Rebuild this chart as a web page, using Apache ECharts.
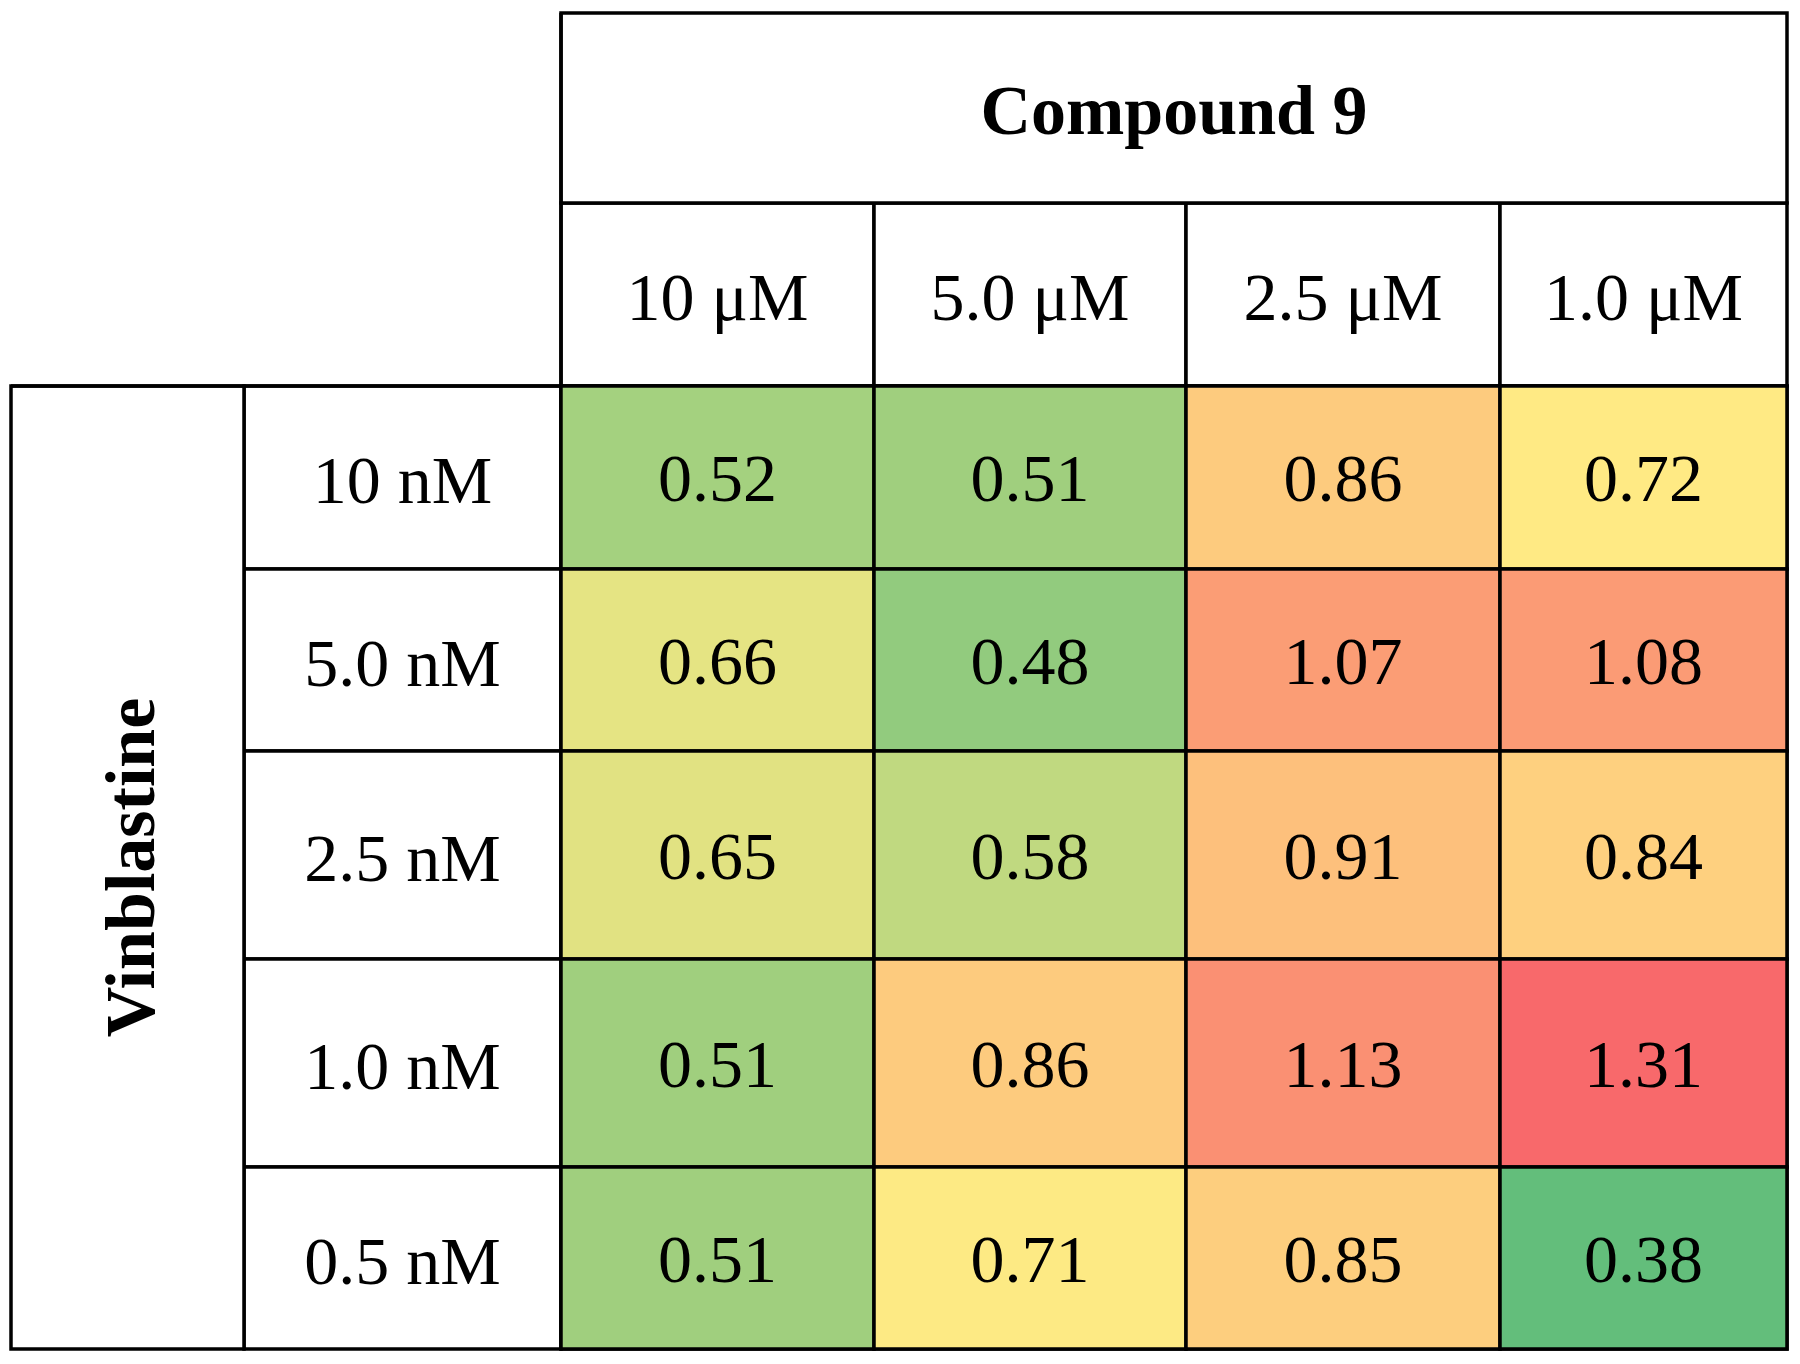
<!DOCTYPE html>
<html>
<head>
<meta charset="utf-8">
<script src="https://cdn.jsdelivr.net/npm/echarts@6/dist/echarts.min.js"></script>
<style>
  html, body { margin: 0; background: #fff; }
  #chart { width: 1800px; height: 1364px; }
</style>
</head>
<body>
<div id="chart"></div>
<script>
const compoundName = 'Compound 9';
const vinName = 'Vinblastine';
const compoundDoses = ['10 μM', '5.0 μM', '2.5 μM', '1.0 μM'];
const vinDoses = ['10 nM', '5.0 nM', '2.5 nM', '1.0 nM', '0.5 nM'];

// one array per vinblastine dose, columns follow compoundDoses
const row10nM = [0.52, 0.51, 0.86, 0.72];
const row5nM = [0.66, 0.48, 1.07, 1.08];
const row2_5nM = [0.65, 0.58, 0.91, 0.84];
const row1nM = [0.51, 0.86, 1.13, 1.31];
const row0_5nM = [0.51, 0.71, 0.85, 0.38];
const rows = [row10nM, row5nM, row2_5nM, row1nM, row0_5nM];

// layout
const colWidths = [313, 312, 314, 287];
const rowHeights = [183, 182, 208, 208, 182];
const font = '"Liberation Serif", "Times New Roman", serif';
const lineW = 3.5;

// excel style 3-colour scale: min green, median yellow, max red
const sorted = rows.flat().sort((a, b) => a - b);
const vMin = sorted[0];
const vMax = sorted[sorted.length - 1];
const n = sorted.length;
const vMid = n % 2 ? sorted[(n - 1) / 2] : (sorted[n / 2 - 1] + sorted[n / 2]) / 2;
function scaleColor(v) {
  const t = v <= vMid
    ? (v - vMin) / (vMid - vMin) * 0.5
    : 0.5 + (v - vMid) / (vMax - vMid) * 0.5;
  return echarts.color.lerp(t, ['#63BE7B', '#FFEB84', '#F8696B']);
}
const stops = [];
for (let i = 0; i <= 93; i++) stops.push(scaleColor(vMin + (vMax - vMin) * i / 93));

const heatData = [];
rows.forEach((r, yi) => {
  r.forEach((v, xi) => heatData.push([compoundDoses[xi], vinDoses[yi], v]));
});

const border = { color: '#fff', borderColor: '#000', borderWidth: lineW };
// text sits a little low in the original: top-aligned with a short line height
// drops the glyphs ~6px below the cell centre
const plainLabel = { fontFamily: font, fontSize: 68, color: '#000', verticalAlign: 'top', lineHeight: 12 };
const boldLabel = { fontFamily: font, fontSize: 70, fontWeight: 'bold', color: '#000', verticalAlign: 'top', lineHeight: 12 };

var myChart = echarts.init(document.getElementById('chart'));
myChart.setOption({
  animation: false,
  matrix: {
    left: 11,
    top: 13,
    width: 1776,
    height: 1336,
    backgroundStyle: { color: 'transparent', borderWidth: 0 },
    x: {
      data: [{
        value: compoundName,
        label: boldLabel,
        children: compoundDoses.map((d, i) => ({ value: d, size: colWidths[i] }))
      }],
      levels: [{ levelSize: 190 }, { levelSize: 183 }],
      itemStyle: border,
      label: plainLabel,
      dividerLineStyle: { color: '#000', width: lineW }
    },
    y: {
      data: [{
        value: vinName,
        label: Object.assign({}, boldLabel, { rotate: 90 }),
        children: vinDoses.map((d, i) => ({ value: d, size: rowHeights[i] }))
      }],
      levels: [{ levelSize: 233 }, { levelSize: 317 }],
      itemStyle: border,
      label: plainLabel,
      dividerLineStyle: { color: '#000', width: lineW }
    },
    corner: {
      itemStyle: { color: 'transparent', borderWidth: 0 }
    },
    body: {
      itemStyle: { color: 'transparent', borderColor: '#000', borderWidth: lineW }
    }
  },
  visualMap: {
    show: false,
    seriesIndex: 0,
    dimension: 2,
    min: vMin,
    max: vMax,
    inRange: { color: stops }
  },
  series: [{
    type: 'heatmap',
    coordinateSystem: 'matrix',
    data: heatData,
    itemStyle: { borderColor: '#000', borderWidth: lineW },
    label: {
      show: true,
      fontFamily: font,
      fontSize: 68,
      color: '#000',
      offset: [0, 6],
      formatter: p => p.value[2].toFixed(2)
    },
    emphasis: { disabled: true }
  }]
});
</script>
</body>
</html>
